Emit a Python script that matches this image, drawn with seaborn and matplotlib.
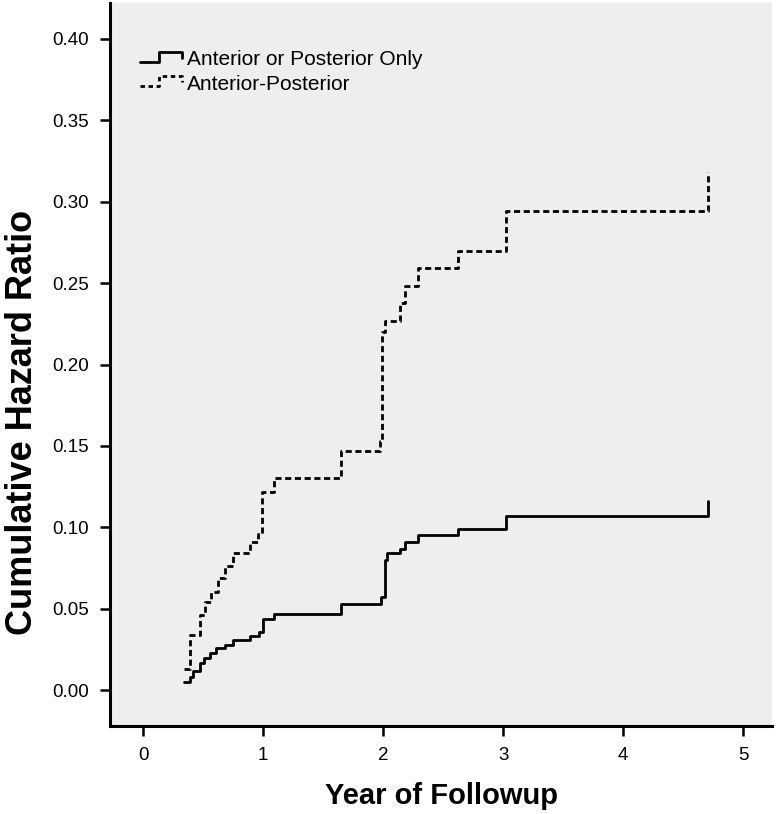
import matplotlib
matplotlib.use("Agg")
import matplotlib.pyplot as plt
from matplotlib.legend_handler import HandlerBase
from matplotlib.lines import Line2D
import pandas as pd
import seaborn as sns

# step times (years) and cumulative hazard after each step
time_single = [0.34, 0.39, 0.42, 0.475, 0.51, 0.56, 0.61, 0.68, 0.75, 0.89, 0.97, 1.0, 1.09,
               1.65, 1.98, 2.02, 2.03, 2.14, 2.18, 2.29, 2.62, 3.02, 4.71]
haz_single = [0.005, 0.008, 0.012, 0.017, 0.020, 0.023, 0.026, 0.028, 0.031, 0.033, 0.036, 0.044, 0.047,
              0.053, 0.057, 0.080, 0.084, 0.087, 0.091, 0.095, 0.099, 0.107, 0.116]

time_combined = [0.34, 0.39, 0.475, 0.52, 0.57, 0.625, 0.68, 0.75, 0.89, 0.96, 0.99, 1.09, 1.65,
                 1.975, 1.99, 2.02, 2.14, 2.18, 2.29, 2.62, 3.02, 4.71]
haz_combined = [0.013, 0.034, 0.046, 0.054, 0.060, 0.069, 0.076, 0.084, 0.091, 0.096, 0.122, 0.130, 0.147,
                0.153, 0.220, 0.227, 0.238, 0.248, 0.259, 0.270, 0.294, 0.318]

labels = ["Anterior or Posterior Only", "Anterior-Posterior"]
x_ticks = [0, 1, 2, 3, 4, 5]
y_ticks = [0.00, 0.05, 0.10, 0.15, 0.20, 0.25, 0.30, 0.35, 0.40]


class StepHandler(HandlerBase):
    # little step-shaped legend key like the SPSS one
    def create_artists(self, legend, orig, xd, yd, width, height, fontsize, trans):
        x0 = -xd
        y0 = -yd
        xs = [x0, x0 + 0.45 * width, x0 + 0.45 * width, x0 + width, x0 + width]
        ys = [y0 + 0.25 * height, y0 + 0.25 * height, y0 + 0.9 * height, y0 + 0.9 * height, y0 + 0.5 * height]
        ln = Line2D(xs, ys, color=orig.get_color(), linewidth=orig.get_linewidth(),
                    linestyle=orig.get_linestyle())
        if orig.get_linestyle() not in ("-", "solid"):
            ln.set_dashes([1.6, 1.3])
        ln.set_transform(trans)
        return [ln]


sns.set_style("white")
plt.rcParams["font.family"] = ["Liberation Sans", "DejaVu Sans"]
plt.rcParams["text.color"] = "black"
plt.rcParams["axes.labelcolor"] = "black"
plt.rcParams["xtick.color"] = "black"
plt.rcParams["ytick.color"] = "black"

fig = plt.figure(figsize=(7.78, 8.14), dpi=100)
ax = fig.add_axes([0.1414, 0.1081, 0.8509, 0.8882])
ax.set_facecolor("#eeeeee")

df1 = pd.DataFrame({"t": time_single, "h": haz_single})
df2 = pd.DataFrame({"t": time_combined, "h": haz_combined})

sns.lineplot(data=df1, x="t", y="h", ax=ax, color="black", linewidth=2.0,
             drawstyle="steps-post", label=labels[0])
sns.lineplot(data=df2, x="t", y="h", ax=ax, color="black", linewidth=2.0,
             drawstyle="steps-post", label=labels[1])
ax.lines[1].set_linestyle("--")
ax.lines[1].set_dashes([2.2, 1.3])

ax.set_xlim(-0.275, 5.24)
ax.set_ylim(-0.022, 0.422)
ax.set_xticks(x_ticks)
ax.set_xticklabels([str(v) for v in x_ticks])
ax.set_yticks(y_ticks)
ax.set_yticklabels([f"{v:.2f}" for v in y_ticks])

for s in ["top", "right"]:
    ax.spines[s].set_visible(False)
for s in ["left", "bottom"]:
    ax.spines[s].set_color("black")
    ax.spines[s].set_linewidth(2.2)

ax.tick_params(axis="both", direction="out", length=7, width=1.8, color="black",
               labelcolor="black", labelsize=13.5, left=True, bottom=True)
ax.tick_params(axis="x", pad=8)
ax.tick_params(axis="y", pad=8)

ax.set_xlabel("Year of Followup", fontsize=21, fontweight="bold", labelpad=13, color="black")
ax.set_ylabel("Cumulative Hazard Ratio", fontsize=26, fontweight="bold", color="black")
ax.yaxis.set_label_coords(-0.106, 0.42)

handles, labs = ax.get_legend_handles_labels()
leg = ax.legend(handles, labs, loc="upper left", bbox_to_anchor=(0.033, 0.946), frameon=False,
                fontsize=15, handlelength=2.0, handletextpad=0.25, labelspacing=0.25,
                borderaxespad=0, handler_map={h: StepHandler() for h in handles})
for t in leg.get_texts():
    t.set_color("black")

fig.savefig("out.png", dpi=100, facecolor="white")
